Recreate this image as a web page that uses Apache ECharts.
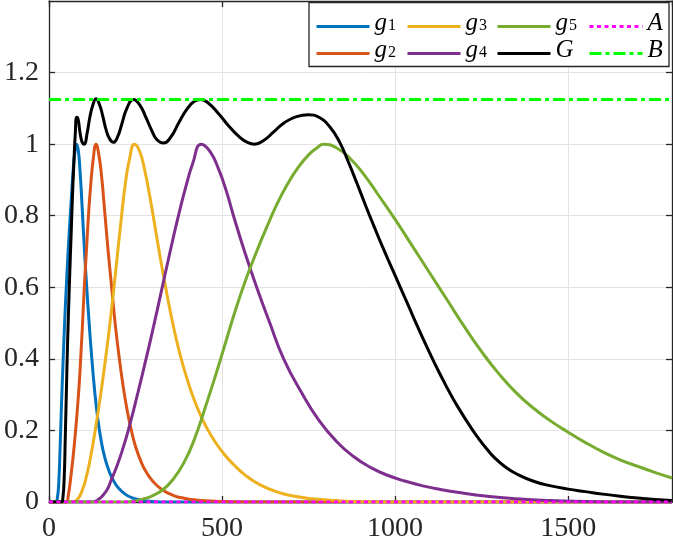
<!DOCTYPE html>
<html>
<head>
<meta charset="utf-8">
<script src="https://cdn.jsdelivr.net/npm/echarts@6/dist/echarts.min.js"></script>
<style>
html,body{margin:0;padding:0;background:#fff;}
#chart{width:673px;height:550px;}
</style>
</head>
<body>
<div id="chart"></div>
<script>
// ---- data ----
const xMin = 0, xMax = 1800, xInterval = 500;
const yMin = 0, yMax = 1.4, yInterval = 0.2;

const g1 = [[0,0],[20,0],[24,0.01],[28,0.05],[32,0.15],[36,0.27],[41,0.4],[46,0.52],[51,0.62],[57,0.73],[64,0.84],[70,0.93],[75,0.98],[80,1.0],[85,0.98],[90,0.92],[96,0.82],[102,0.71],[109,0.6],[116,0.5],[123,0.41],[131,0.32],[140,0.24],[150,0.175],[161,0.125],[173,0.088],[186,0.06],[200,0.04],[220,0.022],[239,0.012],[270,0.004],[320,0],[1800,0]];

const g2 = [[0,0],[50,0],[56,0.02],[63,0.07],[70,0.13],[76,0.19],[82,0.26],[88,0.34],[92,0.41],[97,0.5],[102,0.6],[108,0.7],[114,0.8],[120,0.88],[128,0.96],[136,1.0],[144,0.97],[152,0.91],[162,0.8],[171,0.7],[181,0.6],[191,0.5],[202,0.41],[214,0.325],[226,0.255],[238,0.2],[250,0.155],[265,0.115],[280,0.085],[300,0.058],[326,0.035],[360,0.018],[393,0.01],[430,0.005],[480,0.002],[550,0],[1800,0]];

const g3 = [[0,0],[65,0],[80,0.005],[95,0.03],[109,0.075],[120,0.125],[131,0.185],[147,0.285],[162,0.39],[175,0.49],[186,0.585],[197,0.685],[208,0.785],[220,0.885],[233,0.96],[247,1.0],[262,0.98],[277,0.925],[292,0.85],[307,0.765],[322,0.68],[337,0.6],[352,0.525],[367,0.458],[382,0.4],[397,0.35],[412,0.305],[427,0.267],[442,0.234],[457,0.205],[480,0.168],[501,0.14],[530,0.108],[567,0.075],[610,0.048],[663,0.027],[710,0.016],[760,0.009],[830,0.004],[900,0.001],[1000,0],[1800,0]];

const g4 = [[0,0],[120,0],[140,0.005],[165,0.03],[180,0.062],[196,0.1],[212,0.145],[229,0.2],[253,0.29],[278,0.39],[302,0.49],[326,0.595],[350,0.7],[374,0.8],[395,0.88],[415,0.945],[440,1.0],[465,0.98],[490,0.93],[512,0.87],[533,0.8],[565,0.7],[600,0.6],[638,0.5],[678,0.4],[730,0.305],[780,0.228],[830,0.17],[880,0.127],[930,0.096],[980,0.074],[1030,0.058],[1080,0.045],[1130,0.035],[1180,0.027],[1266,0.016],[1350,0.009],[1450,0.004],[1550,0.0015],[1650,0],[1800,0]];

const g5 = [[0,0],[220,0],[250,0.003],[275,0.009],[300,0.018],[330,0.035],[360,0.065],[390,0.11],[420,0.175],[450,0.26],[480,0.35],[510,0.445],[540,0.54],[570,0.625],[600,0.7],[630,0.77],[660,0.835],[690,0.89],[720,0.935],[750,0.97],[775,0.99],[793,1.0],[830,0.99],[870,0.96],[910,0.915],[950,0.86],[1000,0.79],[1050,0.715],[1100,0.64],[1150,0.565],[1200,0.49],[1250,0.42],[1300,0.358],[1350,0.305],[1400,0.262],[1450,0.226],[1500,0.195],[1550,0.166],[1600,0.14],[1650,0.118],[1700,0.1],[1750,0.083],[1800,0.067]];

const G = [[0,0],[36,0],[40,0.01],[44,0.07],[47,0.18],[50,0.3],[53,0.42],[56,0.52],[60,0.64],[64,0.75],[68,0.86],[72,0.95],[76,1.03],[80,1.075],[84,1.07],[90,1.03],[96,1.005],[102,1.0],[110,1.03],[118,1.075],[127,1.11],[136,1.127],[146,1.11],[155,1.08],[165,1.04],[175,1.015],[186,1.005],[198,1.02],[210,1.055],[225,1.1],[244,1.125],[262,1.11],[280,1.075],[296,1.04],[312,1.012],[331,1.003],[352,1.02],[375,1.06],[400,1.1],[420,1.12],[437,1.125],[460,1.115],[490,1.085],[520,1.05],[550,1.02],[575,1.004],[594,1.0],[620,1.01],[650,1.035],[680,1.06],[715,1.077],[750,1.082],[780,1.075],[810,1.05],[840,1.005],[865,0.95],[890,0.89],[915,0.828],[940,0.768],[965,0.71],[990,0.655],[1015,0.6],[1040,0.545],[1065,0.49],[1090,0.437],[1115,0.386],[1140,0.338],[1165,0.293],[1190,0.252],[1215,0.214],[1240,0.179],[1265,0.148],[1290,0.121],[1320,0.097],[1350,0.079],[1400,0.058],[1450,0.045],[1500,0.036],[1550,0.029],[1600,0.022],[1650,0.016],[1700,0.011],[1750,0.007],[1800,0.004]];

const A = [[0,0],[1800,0]];
const B = [[0,1.125],[1800,1.125]];

const names = ['g1','g2','g3','g4','g5','G','A','B'];
const dataSets = [g1,g2,g3,g4,g5,G,A,B];
const colors = ['#0072BD','#D95319','#EDB120','#7E2F8E','#77AC30','#000000','#FF00FF','#00FF00'];
const dashes = ['solid','solid','solid','solid','solid','solid',[4,3.5],[12,4,4,4]];

// ---- chart ----
const chart = echarts.init(document.getElementById('chart'), null, {renderer:'canvas'});
const axisColor = '#262626';
const serif = 'Liberation Serif';

const series = names.map((n,i)=>({
  name: n,
  type: 'line',
  data: dataSets[i],
  symbol: 'none',
  smooth: i < 6 ? 0.5 : false,
  lineStyle: {color: colors[i], width: 3, type: dashes[i]},
  itemStyle: {color: colors[i]},
  z: 2 + i,
  animation: false
}));

const legendCols = [['g1','g2'],['g3','g4'],['g5','G'],['A','B']];
const legendLeft = [315, 406, 496, 588];
const legends = legendCols.map((d,i)=>({
  data: d,
  orient: 'vertical',
  left: legendLeft[i],
  top: 11,
  padding: 0,
  itemWidth: 53,
  itemHeight: 14,
  itemGap: 2,
  selectedMode: false,
  itemStyle: {opacity: 0},
  lineStyle: {width: 3},
  formatter: function(name){
    if (name.length === 2) return '{i|' + name[0] + '}{s|' + name[1] + '}';
    return '{i|' + name + '}';
  },
  textStyle: {
    padding: [0,0,6,0],
    rich: {
      i: {fontFamily: serif, fontStyle: 'italic', fontSize: 25, lineHeight: 20, color: '#000', verticalAlign: 'middle'},
      s: {fontFamily: serif, fontSize: 16, lineHeight: 6, color: '#000', verticalAlign: 'bottom', padding: [0,0,0,1]}
    }
  }
}));

const option = {
  animation: false,
  backgroundColor: '#fff',
  grid: {left: 49, right: 1, top: 1, bottom: 48, containLabel: false},
  graphic: [{
    type: 'rect', z: 3,
    shape: {x: 309, y: 2.5, width: 360, height: 64},
    style: {fill: '#fff', stroke: axisColor, lineWidth: 1.3}
  }],
  legend: legends,
  xAxis: [{
    type: 'value', min: xMin, max: xMax, interval: xInterval,
    axisLine: {show: true, onZero: false, lineStyle: {color: axisColor, width: 1.3}},
    axisTick: {show: true, inside: true, length: 6, lineStyle: {color: axisColor, width: 1.3}},
    splitLine: {show: true, lineStyle: {color: '#e3e3e3', width: 1}},
    axisLabel: {show: true, fontFamily: serif, fontSize: 28, color: axisColor, margin: 13, showMaxLabel: false,
      formatter: function(v){ return String(v); }}
  },{
    type: 'value', position: 'top', min: xMin, max: xMax, interval: xInterval,
    axisLine: {show: true, onZero: false, lineStyle: {color: axisColor, width: 1.3}},
    axisTick: {show: true, inside: true, length: 6, lineStyle: {color: axisColor, width: 1.3}},
    splitLine: {show: false},
    axisLabel: {show: false}
  }],
  yAxis: [{
    type: 'value', min: yMin, max: yMax, interval: yInterval,
    axisLine: {show: true, onZero: false, lineStyle: {color: axisColor, width: 1.3}},
    axisTick: {show: true, inside: true, length: 6, lineStyle: {color: axisColor, width: 1.3}},
    splitLine: {show: true, lineStyle: {color: '#e3e3e3', width: 1}},
    axisLabel: {show: true, fontFamily: serif, fontSize: 28, color: axisColor, margin: 10, showMaxLabel: false,
      formatter: function(v){ return String(Math.round(v*10)/10); }}
  },{
    type: 'value', position: 'right', min: yMin, max: yMax, interval: yInterval,
    axisLine: {show: true, onZero: false, lineStyle: {color: axisColor, width: 1.3}},
    axisTick: {show: true, inside: true, length: 6, lineStyle: {color: axisColor, width: 1.3}},
    splitLine: {show: false},
    axisLabel: {show: false}
  }],
  series: series
};
chart.setOption(option);
</script>
</body>
</html>
